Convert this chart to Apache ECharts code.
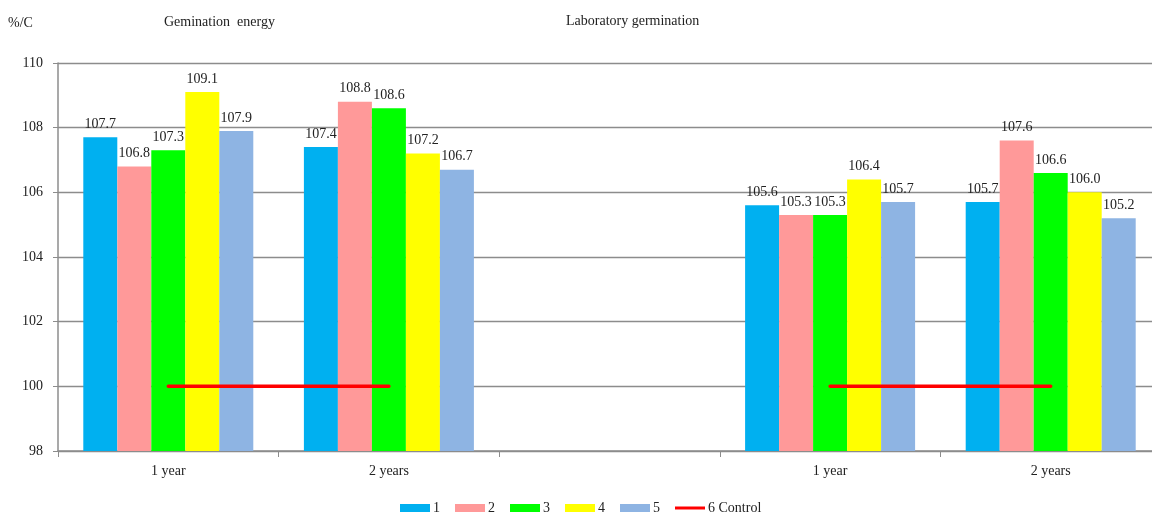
<!DOCTYPE html>
<html>
<head>
<meta charset="utf-8">
<script src="https://cdn.jsdelivr.net/npm/echarts@6/dist/echarts.min.js"></script>
<style>
  html, body { margin: 0; padding: 0; background: #fff; overflow: hidden; }
  #chart { width: 1170px; height: 515px; }
</style>
</head>
<body>
<div id="chart"></div>
<script>
// Categories: two groups (germination energy, laboratory germination) separated by an empty slot
const categories = ['1 year', '2 years', '', '1 year', '2 years'];
const seriesNames = ['1', '2', '3', '4', '5'];
const values1 = [107.7, 107.4, null, 105.6, 105.7];
const values2 = [106.8, 108.8, null, 105.3, 107.6];
const values3 = [107.3, 108.6, null, 105.3, 106.6];
const values4 = [109.1, 107.2, null, 106.4, 106.0];
const values5 = [107.9, 106.7, null, 105.7, 105.2];
const controlName = '6 Control';
const controlValues = [100, 100, null, 100, 100];
const colors = ['#00B0F0', '#FF9999', '#00FF00', '#FFFF00', '#8EB4E3'];

const FONT = '"Liberation Serif", "Times New Roman", serif';
const barValues = [values1, values2, values3, values4, values5];

const barSeries = barValues.map((vals, i) => ({
  name: seriesNames[i],
  type: 'bar',
  data: vals,
  barWidth: 34,
  barGap: '0%',
  itemStyle: { color: colors[i] },
  label: {
    show: true,
    position: 'top',
    distance: 6,
    color: '#222',
    fontFamily: FONT,
    fontSize: 14,
    formatter: p => p.value == null ? '' : Number(p.value).toFixed(1)
  },
  emphasis: { disabled: true }
}));

const titleStyle = { fontFamily: FONT, fontSize: 14, fontWeight: 'normal', color: '#222' };

const option = {
  animation: false,
  backgroundColor: '#fff',
  textStyle: { fontFamily: FONT },
  title: [
    { text: '%/C', left: 8, top: 16, padding: 0, textStyle: titleStyle },
    { text: 'Gemination  energy', left: 164, top: 15, padding: 0, textStyle: titleStyle },
    { text: 'Laboratory germination', left: 566, top: 14, padding: 0, textStyle: titleStyle }
  ],
  legend: {
    top: 501,
    left: 400,
    padding: 0,
    itemWidth: 30,
    itemHeight: 8,
    itemGap: 15,
    textStyle: { fontFamily: FONT, fontSize: 14, color: '#222', padding: [0, 0, 0, -2] },
    data: [
      ...seriesNames.map(n => ({ name: n, icon: 'rect' })),
      { name: controlName, icon: 'path://M0,0 L30,0 L30,3 L0,3 Z' }
    ]
  },
  grid: { left: 58, top: 63, width: 1103, height: 388, containLabel: false },
  xAxis: {
    type: 'category',
    data: categories,
    boundaryGap: true,
    axisLine: { lineStyle: { color: '#8c8c8c', width: 1.5 } },
    axisTick: { show: true, length: 6, alignWithLabel: false, lineStyle: { color: '#8c8c8c' } },
    axisLabel: { fontFamily: FONT, fontSize: 14, color: '#222', margin: 13 }
  },
  yAxis: {
    type: 'value',
    min: 98,
    max: 110,
    interval: 2,
    axisLine: { show: true, lineStyle: { color: '#8c8c8c', width: 1.5 } },
    axisTick: { show: true, length: 5, lineStyle: { color: '#8c8c8c' } },
    axisLabel: { fontFamily: FONT, fontSize: 14, color: '#222', margin: 15 },
    splitLine: { show: true, lineStyle: { color: '#8c8c8c', width: 1.3 } }
  },
  series: [
    ...barSeries,
    {
      name: controlName,
      type: 'line',
      data: controlValues,
      symbol: 'none',
      connectNulls: false,
      z: 5,
      lineStyle: { color: '#FF0000', width: 3.5, cap: 'round' },
      itemStyle: { color: '#FF0000' },
      emphasis: { disabled: true }
    }
  ]
};

const chart = echarts.init(document.getElementById('chart'), null, { renderer: 'canvas' });
chart.setOption(option);
</script>
</body>
</html>
